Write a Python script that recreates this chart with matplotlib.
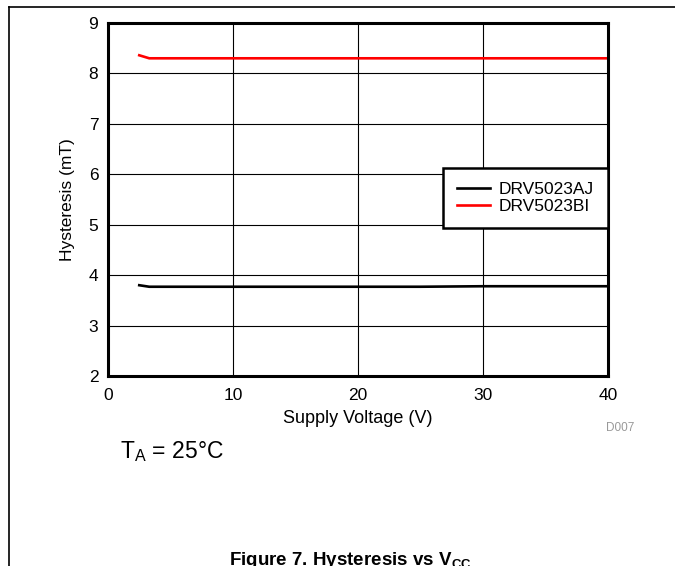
import matplotlib

matplotlib.use('Agg')
import matplotlib.pyplot as plt
from matplotlib.lines import Line2D

plt.rcParams['font.family'] = ['Liberation Sans', 'DejaVu Sans']

# Supply voltage (V) and hysteresis (mT)
vcc = [2.5, 3.3, 5, 10, 15, 20, 25, 30, 35, 40]
hyst_aj = [3.80, 3.77, 3.77, 3.77, 3.77, 3.77, 3.77, 3.78, 3.78, 3.78]
hyst_bi = [8.36, 8.30, 8.30, 8.30, 8.30, 8.30, 8.30, 8.30, 8.30, 8.30]

x_ticks = [0, 10, 20, 30, 40]
y_ticks = [2, 3, 4, 5, 6, 7, 8, 9]

W, H = 675, 566
fig = plt.figure(figsize=(W / 100, H / 100), dpi=100)
ax = fig.add_axes([108 / W, 1 - 376 / H, 500 / W, 353 / H])

ax.plot(vcc, hyst_aj, color='black', lw=1.9, label='DRV5023AJ')
ax.plot(vcc, hyst_bi, color='#ff0000', lw=1.9, label='DRV5023BI')

ax.set_xlim(0, 40)
ax.set_ylim(2, 9)
ax.set_xticks(x_ticks)
ax.set_yticks(y_ticks)
ax.tick_params(axis='x', length=0, labelsize=12.5, pad=9)
ax.tick_params(axis='y', length=0, labelsize=12.5, pad=7)
ax.grid(True, color='black', lw=0.8)
for sp in ax.spines.values():
    sp.set_linewidth(2.2)

ax.set_xlabel('Supply Voltage (V)', fontsize=13, labelpad=5)
ax.set_ylabel('Hysteresis (mT)', fontsize=12.5, labelpad=10)

leg = ax.legend(loc='upper right', bbox_to_anchor=(1.0, (376 - 168) / 353),
                borderaxespad=0, fontsize=12.5, fancybox=False, framealpha=1,
                edgecolor='black', handlelength=1.9, handletextpad=0.5,
                borderpad=0.8, labelspacing=0.1)
leg.get_frame().set_linewidth(1.8)

fig.text(620 / W, 1 - 428 / H, 'D007', fontsize=8.5, color='#999999',
         ha='center', va='center')
fig.text(120 / W, 1 - 452 / H, 'T$_\\mathregular{A}$ = 25°C', fontsize=16.5,
         ha='left', va='center')
fig.text(350 / W, 1 - 565 / H, 'Figure 7. Hysteresis vs V$_\\mathregular{CC}$',
         fontsize=13.5, fontweight='bold', ha='center', va='baseline')

# page frame lines
fig.add_artist(Line2D([9 / W, 1], [1 - 7 / H, 1 - 7 / H], color='black', lw=1.2))
fig.add_artist(Line2D([9 / W, 9 / W], [0, 1 - 7 / H], color='black', lw=1.2))

fig.savefig('out.png', dpi=100)
